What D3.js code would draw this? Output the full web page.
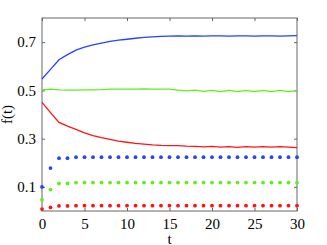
<!DOCTYPE html>
<html>
<head>
<meta charset="utf-8">
<script src="https://cdnjs.cloudflare.com/ajax/libs/d3/7.8.5/d3.min.js"></script>
<style>
  body { margin: 0; background: #fff; }
  svg text { font-family: "Liberation Serif", "DejaVu Serif", serif; }
</style>
</head>
<body>
<div id="chart"></div>
<script>
// time steps 0..30
var tValues = d3.range(0, 31);

// line series
var blueLine = [0.547, 0.587, 0.627, 0.648, 0.667, 0.679, 0.689, 0.696, 0.703, 0.708, 0.712, 0.716, 0.720, 0.722, 0.724, 0.725,
  0.726, 0.725, 0.726, 0.725, 0.726, 0.726, 0.725, 0.726, 0.726, 0.725, 0.726, 0.726, 0.725, 0.726, 0.727];
var greenLine = [0.502, 0.505, 0.502, 0.501, 0.501, 0.502, 0.502, 0.503, 0.505, 0.505, 0.505, 0.505, 0.506, 0.505, 0.505, 0.505,
  0.501, 0.498, 0.501, 0.496, 0.500, 0.495, 0.500, 0.495, 0.500, 0.495, 0.500, 0.495, 0.500, 0.495, 0.499];
var redLine = [0.450, 0.408, 0.367, 0.352, 0.338, 0.324, 0.312, 0.304, 0.297, 0.290, 0.285, 0.280, 0.277, 0.274, 0.272, 0.271,
  0.271, 0.269, 0.268, 0.266, 0.268, 0.265, 0.267, 0.264, 0.267, 0.265, 0.267, 0.265, 0.267, 0.265, 0.263];

// dotted series
var blueDots = [0.100, 0.178, 0.219, 0.219, 0.223, 0.223, 0.223, 0.223, 0.223, 0.223, 0.223, 0.223, 0.223, 0.223, 0.223, 0.223,
  0.223, 0.223, 0.223, 0.223, 0.223, 0.223, 0.223, 0.223, 0.223, 0.223, 0.223, 0.223, 0.223, 0.223, 0.223];
var greenDots = [0.047, 0.089, 0.114, 0.114, 0.118, 0.118, 0.118, 0.118, 0.118, 0.118, 0.118, 0.118, 0.118, 0.118, 0.118, 0.118,
  0.118, 0.118, 0.118, 0.118, 0.118, 0.118, 0.118, 0.118, 0.118, 0.118, 0.118, 0.118, 0.118, 0.118, 0.118];
var redDots = [0.008, 0.015, 0.021, 0.021, 0.022, 0.022, 0.022, 0.022, 0.022, 0.022, 0.022, 0.022, 0.022, 0.022, 0.022, 0.022,
  0.022, 0.022, 0.022, 0.022, 0.022, 0.022, 0.022, 0.022, 0.022, 0.022, 0.022, 0.022, 0.022, 0.022, 0.022];

var xTicks = [0, 5, 10, 15, 20, 25, 30];
var yTicks = [0.1, 0.3, 0.5, 0.7];

var blue = "#2343ff", green = "#5cf01a", red = "#ff1414";

var margin = { top: 18, right: 30, bottom: 34, left: 42 },
  width = 327 - margin.left - margin.right,
  height = 245 - margin.top - margin.bottom;

var svg = d3.select("#chart")
  .append("svg")
  .attr("width", 327)
  .attr("height", 245)
  .append("g")
  .attr("transform", "translate(" + margin.left + "," + margin.top + ")");

var x = d3.scaleLinear().domain([0, 30]).range([0, width]);
var y = d3.scaleLinear().domain([0, 0.8]).range([height, 0]);

// axes with inward ticks, mirrored on top/right
function styleAxis(g) {
  g.select(".domain").remove();
  g.selectAll(".tick line").attr("stroke", "#666");
  g.selectAll(".tick text").attr("font-size", 15).attr("fill", "#000");
}

svg.append("g")
  .attr("transform", "translate(0," + height + ")")
  .call(d3.axisBottom(x).tickValues(xTicks).tickSize(-3).tickPadding(7).tickFormat(d3.format("d")))
  .call(styleAxis);

svg.append("g")
  .call(d3.axisTop(x).tickValues(xTicks).tickSize(-3).tickFormat(""))
  .call(styleAxis);

svg.append("g")
  .call(d3.axisLeft(y).tickValues(yTicks).tickSize(-3).tickPadding(6).tickFormat(d3.format(".1f")))
  .call(styleAxis);

svg.append("g")
  .attr("transform", "translate(" + width + ",0)")
  .call(d3.axisRight(y).tickValues(yTicks).tickSize(-3).tickFormat(""))
  .call(styleAxis);

svg.append("rect")
  .attr("width", width)
  .attr("height", height)
  .attr("fill", "none")
  .attr("stroke", "#666")
  .attr("stroke-width", 1);

// lines
var line = d3.line()
  .x(function (d, i) { return x(tValues[i]); })
  .y(function (d) { return y(d); });

[[blueLine, blue], [greenLine, green], [redLine, red]].forEach(function (s) {
  svg.append("path")
    .datum(s[0])
    .attr("fill", "none")
    .attr("stroke", s[1])
    .attr("stroke-width", 1.3)
    .attr("d", line);
});

// dots
[[blueDots, blue], [greenDots, green], [redDots, red]].forEach(function (s) {
  svg.append("g")
    .selectAll("circle")
    .data(s[0])
    .enter()
    .append("circle")
    .attr("cx", function (d, i) { return x(tValues[i]); })
    .attr("cy", function (d) { return y(d); })
    .attr("r", 1.9)
    .attr("fill", s[1]);
});

// axis labels
svg.append("text")
  .attr("x", width / 2)
  .attr("y", height + 32.5)
  .attr("text-anchor", "middle")
  .attr("font-size", 15)
  .text("t");

svg.append("text")
  .attr("transform", "translate(" + (-30) + "," + (height / 2) + ") rotate(-90)")
  .attr("text-anchor", "middle")
  .attr("font-size", 15)
  .text("f(t)");
</script>
</body>
</html>
